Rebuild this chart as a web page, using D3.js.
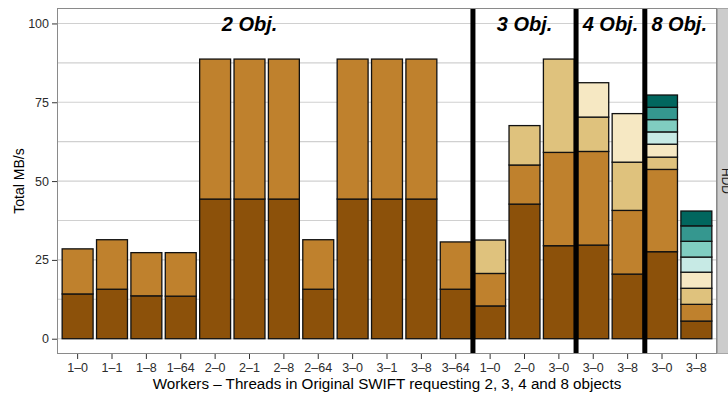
<!DOCTYPE html>
<html>
<head>
<meta charset="utf-8">
<script src="https://cdn.jsdelivr.net/npm/d3@7"></script>
<style>
  html, body { margin: 0; padding: 0; background: #fff; }
  svg { display: block; font-family: "Liberation Sans", Arial, sans-serif; }
</style>
</head>
<body>
<svg id="chart" width="728" height="394"></svg>
<script>
// Worker–thread configuration of each bar, left to right
const configs = ["1–0", "1–1", "1–8", "1–64", "2–0", "2–1", "2–8", "2–64",
                 "3–0", "3–1", "3–8", "3–64",
                 "1–0", "2–0", "3–0",
                 "3–0", "3–8",
                 "3–0", "3–8"];

// Throughput (MB/s) of each requested object, stacked bottom to top
const obj1 = [14.2, 15.7, 13.6, 13.5, 44.3, 44.3, 44.3, 15.7, 44.3, 44.3, 44.3, 15.7, 10.4, 42.7, 29.5, 29.7, 20.5, 27.6, 5.6];
const obj2 = [14.3, 15.7, 13.7, 13.8, 44.4, 44.4, 44.4, 15.7, 44.4, 44.4, 44.4, 15.0, 10.3, 12.4, 29.6, 29.7, 20.2, 26.1, 5.3];
const obj3 = [0, 0, 0, 0, 0, 0, 0, 0, 0, 0, 0, 0, 10.6, 12.5, 29.6, 10.9, 15.3, 3.9, 5.1];
const obj4 = [0, 0, 0, 0, 0, 0, 0, 0, 0, 0, 0, 0, 0, 0, 0, 10.9, 15.4, 4.1, 5.1];
const obj5 = [0, 0, 0, 0, 0, 0, 0, 0, 0, 0, 0, 0, 0, 0, 0, 0, 0, 3.9, 4.8];
const obj6 = [0, 0, 0, 0, 0, 0, 0, 0, 0, 0, 0, 0, 0, 0, 0, 0, 0, 3.9, 5.0];
const obj7 = [0, 0, 0, 0, 0, 0, 0, 0, 0, 0, 0, 0, 0, 0, 0, 0, 0, 3.9, 4.9];
const obj8 = [0, 0, 0, 0, 0, 0, 0, 0, 0, 0, 0, 0, 0, 0, 0, 0, 0, 3.9, 4.7];

// Object-count groups: label, first and last bar position (1-based)
const groupLabels = ["2 Obj.", "3 Obj.", "4 Obj.", "8 Obj."];
const groupStart = [1, 13, 16, 18];
const groupEnd = [12, 15, 17, 19];
const groupLabelPos = [6, 14, 16.5, 18.5];

const yTicks = [0, 25, 50, 75, 100];
const yMinor = [12.5, 37.5, 62.5, 87.5];
const facetLabel = "HDD";

const objColors = ["#8C510A", "#BF812D", "#DFC27D", "#F6E8C3", "#C7EAE5", "#80CDC1", "#35978F", "#01665E"];

const series = [obj1, obj2, obj3, obj4, obj5, obj6, obj7, obj8];
const keys = series.map((_, i) => "o" + (i + 1));
const rows = configs.map((c, i) => {
  const r = { idx: i + 1, label: c };
  series.forEach((s, k) => { r[keys[k]] = s[i]; });
  return r;
});

const panel = { left: 57, right: 717, top: 8, bottom: 354 };
const svg = d3.select("#chart");

// x: discrete positions 1..19 with 0.6 expansion on each side
const xPos = d3.scaleLinear().domain([0.4, configs.length + 0.6]).range([panel.left, panel.right]);
const xBand = d3.scaleBand()
  .domain(rows.map(r => r.idx))
  .range([panel.left, panel.right])
  .paddingInner(0.1)
  .paddingOuter(0.15);

const y = d3.scaleLinear().domain([-4.85, 104.9]).range([panel.bottom, panel.top]);

// Panel background and gridlines
svg.append("rect")
  .attr("x", panel.left).attr("y", panel.top)
  .attr("width", panel.right - panel.left).attr("height", panel.bottom - panel.top)
  .attr("fill", "#fff");

svg.append("g").selectAll("line").data(yMinor.concat(yTicks)).join("line")
  .attr("x1", panel.left).attr("x2", panel.right)
  .attr("y1", d => y(d)).attr("y2", d => y(d))
  .attr("stroke", "#d0d0d0").attr("stroke-width", 1.1);

// Stacked bars
const stacked = d3.stack().keys(keys)(rows);
const barLayer = svg.append("g");
stacked.forEach((layer, k) => {
  barLayer.append("g").selectAll("rect")
    .data(layer.filter(d => d[1] - d[0] > 0))
    .join("rect")
    .attr("x", d => xBand(d.data.idx))
    .attr("width", xBand.bandwidth())
    .attr("y", d => y(d[1]))
    .attr("height", d => y(d[0]) - y(d[1]))
    .attr("fill", objColors[k])
    .attr("stroke", "#111")
    .attr("stroke-width", 1.3);
});

// Separators between object-count groups
svg.append("g").selectAll("line").data(groupStart.slice(1)).join("line")
  .attr("x1", d => xPos(d - 0.5)).attr("x2", d => xPos(d - 0.5))
  .attr("y1", panel.top).attr("y2", panel.bottom)
  .attr("stroke", "#000").attr("stroke-width", 5);

// Group titles
svg.append("g").selectAll("text").data(groupLabels).join("text")
  .attr("x", (d, i) => xPos(groupLabelPos[i]))
  .attr("y", 30.5)
  .attr("text-anchor", "middle")
  .attr("font-size", 20)
  .attr("font-weight", "bold")
  .attr("font-style", "italic")
  .attr("fill", "#000")
  .text(d => d);

// Panel border
svg.append("rect")
  .attr("x", panel.left + 0.5).attr("y", panel.top + 0.5)
  .attr("width", panel.right - panel.left - 1).attr("height", panel.bottom - panel.top - 1)
  .attr("fill", "none").attr("stroke", "#8a8a8a").attr("stroke-width", 1);

// Facet strip on the right
svg.append("rect")
  .attr("x", panel.right + 0.5).attr("y", panel.top + 0.5)
  .attr("width", 20).attr("height", panel.bottom - panel.top - 1)
  .attr("fill", "#cccccc").attr("stroke", "#a6a6a6").attr("stroke-width", 1);
svg.append("text")
  .attr("transform", `translate(${panel.right + 5},${(panel.top + panel.bottom) / 2}) rotate(90)`)
  .attr("text-anchor", "middle")
  .attr("font-size", 12)
  .attr("fill", "#1a1a1a")
  .text(facetLabel);

// Axes
const xAxis = d3.axisBottom(xBand)
  .tickFormat(i => configs[i - 1])
  .tickSize(5).tickPadding(4);
const gx = svg.append("g")
  .attr("transform", `translate(0,${panel.bottom})`)
  .call(xAxis);
gx.select(".domain").remove();
gx.selectAll(".tick line").attr("stroke", "#333").attr("stroke-width", 1);
gx.selectAll(".tick text").attr("font-size", 12.5).attr("fill", "#2b2b2b")
  .attr("font-family", "Liberation Sans, Arial, sans-serif");

const yAxis = d3.axisLeft(y).tickValues(yTicks).tickSize(5).tickPadding(3);
const gy = svg.append("g")
  .attr("transform", `translate(${panel.left},0)`)
  .call(yAxis);
gy.select(".domain").remove();
gy.selectAll(".tick line").attr("stroke", "#333").attr("stroke-width", 1);
gy.selectAll(".tick text").attr("font-size", 12.5).attr("fill", "#2b2b2b")
  .attr("font-family", "Liberation Sans, Arial, sans-serif");

// Axis titles
svg.append("text")
  .attr("x", (panel.left + panel.right) / 2).attr("y", 388.5)
  .attr("text-anchor", "middle").attr("font-size", 15.2).attr("fill", "#000")
  .text("Workers – Threads in Original SWIFT requesting 2, 3, 4 and 8 objects");
svg.append("text")
  .attr("transform", `translate(24,${(panel.top + panel.bottom) / 2}) rotate(-90)`)
  .attr("text-anchor", "middle").attr("font-size", 14).attr("fill", "#000")
  .text("Total MB/s");
</script>
</body>
</html>
